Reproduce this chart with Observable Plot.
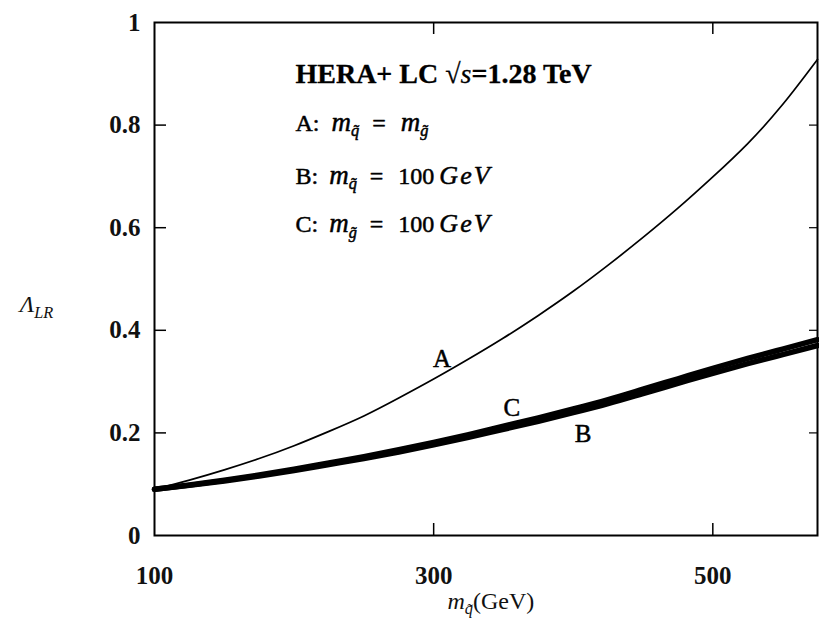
<!DOCTYPE html>
<html>
<head>
<meta charset="utf-8">
<script src="https://cdn.jsdelivr.net/npm/d3@7"></script>
<script src="https://cdn.jsdelivr.net/npm/@observablehq/plot@0.6"></script>
<style>
  html, body { margin: 0; padding: 0; background: #fff; }
  #chart { width: 819px; height: 618px; }
  svg { font-family: "Liberation Serif", "DejaVu Serif", serif; }
</style>
</head>
<body>
<div id="chart"></div>
<script>
// ---- data ----
const mq = [100,125,150,175,200,225,250,275,300,325,350,375,400,425,450,475,500,525,550,575];
const seriesA = [0.090,0.108,0.128,0.150,0.175,0.203,0.233,0.268,0.305,0.344,0.385,0.429,0.476,0.527,0.581,0.638,0.699,0.764,0.840,0.928];
const seriesB = [0.090,0.0977,0.1064,0.1161,0.1268,0.1385,0.1502,0.1629,0.1766,0.1913,0.2070,0.2227,0.2394,0.2571,0.2768,0.2965,0.3162,0.3349,0.3526,0.3703];
const seriesC = [0.090,0.0983,0.1076,0.1179,0.1292,0.1415,0.1538,0.1671,0.1814,0.1967,0.2130,0.2293,0.2466,0.2649,0.2852,0.3055,0.3258,0.3451,0.3634,0.3817];
const xTicks = [100, 300, 500];
const yTicks = [0, 0.2, 0.4, 0.6, 0.8, 1];
const yTickLabels = ["0", "0.2", "0.4", "0.6", "0.8", "1"];
const curveLabels = [
  {x: 306, y: 0.345, t: "A"},
  {x: 356, y: 0.248, t: "C"},
  {x: 407, y: 0.197, t: "B"}
];
// legend block (rich text parts: i = italic, sub = subscript, dx = gap before, fs = font size)
const legendRows = [
  {x: 201, y: 0.883, size: 28, bold: true,
   parts: [{t: "HERA+ LC "}, {t: "√"}, {t: "s", i: true}, {t: "=1.28 TeV"}]},
  {x: 201, y: 0.789, size: 24,
   parts: [{t: "A:"}, {t: "m", i: true, dx: 12, fs: 27}, {t: "q\u0303", i: true, sub: true}, {t: "=", dx: 13}, {t: "m", i: true, dx: 15, fs: 27}, {t: "g\u0303", i: true, sub: true}]},
  {x: 201, y: 0.686, size: 24,
   parts: [{t: "B:"}, {t: "m", i: true, dx: 11, fs: 27}, {t: "q\u0303", i: true, sub: true}, {t: "=", dx: 13}, {t: "100", dx: 15}, {t: "GeV", i: true, dx: 5, fs: 26, ls: 2}]},
  {x: 201, y: 0.591, size: 24,
   parts: [{t: "C:"}, {t: "m", i: true, dx: 11, fs: 27}, {t: "g\u0303", i: true, sub: true}, {t: "=", dx: 13}, {t: "100", dx: 15}, {t: "GeV", i: true, dx: 5, fs: 26, ls: 2}]}
];

const W = 819, H = 618;
const mL = 154, mR = 2, mT = 22, mB = 83;
const plotW = W - mL - mR, plotH = H - mT - mB;

const rows = (ys, name) => mq.map((x, i) => ({x, y: ys[i], s: name}));
const dataA = rows(seriesA, "A");
const dataB = rows(seriesB, "B");
const dataC = rows(seriesC, "C");

function rich(textEl, parts, size) {
  textEl.textContent = "";
  let shifted = false;
  for (const p of parts) {
    const ts = d3.select(textEl).append("tspan").text(p.t);
    if (p.i) ts.attr("font-style", "italic").attr("font-weight", "normal");
    if (p.fs) ts.attr("font-size", p.fs);
    if (p.ls) ts.attr("letter-spacing", p.ls);
    if (p.dx) ts.attr("dx", p.dx);
    if (p.sub) {
      ts.attr("font-size", size * 0.68).attr("dy", shifted ? 0 : "0.32em");
      shifted = true;
    } else if (shifted) {
      ts.attr("dy", "-0.22em");
      shifted = false;
    }
  }
}

function richRender(getParts, getSize, getBold) {
  return (index, scales, values, dimensions, context, next) => {
    const g = next(index, scales, values, dimensions, context);
    d3.select(g).selectAll("text").each(function(_, j) {
      const k = index[j];
      const size = getSize(k);
      d3.select(this).attr("font-size", size);
      if (getBold && getBold(k)) d3.select(this).attr("font-weight", "bold");
      rich(this, getParts(k), size);
    });
    return g;
  };
}

const xLabelParts = [{t: "m", i: true}, {t: "q\u0303", i: true, sub: true}, {t: "(GeV)"}];
const yLabelParts = [{t: "Λ", i: true}, {t: "LR", i: true, sub: true}];

const plot = Plot.plot({
  width: W,
  height: H,
  marginLeft: mL,
  marginRight: mR,
  marginTop: mT,
  marginBottom: mB,
  x: {domain: [100, 575], axis: null},
  y: {domain: [0, 1], axis: null},
  style: {fontFamily: "'Liberation Serif', 'DejaVu Serif', serif", background: "#fff"},
  marks: [
    // tick marks (inward on all four sides)
    Plot.tickY(yTicks.slice(1, 5), {y: d => d, insetRight: plotW - 12, stroke: "#000", strokeWidth: 1.5}),
    Plot.tickY(yTicks.slice(1, 5), {y: d => d, insetLeft: plotW - 8, stroke: "#000", strokeWidth: 1.2}),
    Plot.tickX(xTicks.slice(1), {x: d => d, insetTop: plotH - 12, stroke: "#000", strokeWidth: 1.5}),
    Plot.tickX(xTicks.slice(1), {x: d => d, insetBottom: plotH - 12, stroke: "#000", strokeWidth: 1.5}),
    Plot.frame({stroke: "#000", strokeWidth: 2}),
    // tick labels
    Plot.text(yTicks, {x: 100, y: d => d, text: (d, i) => yTickLabels[i], textAnchor: "end", dx: -14,
      fontSize: 25, fontWeight: "bold", fill: "#111"}),
    Plot.text(xTicks, {x: d => d, y: 0, text: d => String(d), dy: 40, fontSize: 25, fontWeight: "bold", fill: "#111"}),
    // curves
    Plot.line(dataA, {x: "x", y: "y", stroke: "#000", strokeWidth: 1.7, curve: "natural"}),
    Plot.line(dataB, {x: "x", y: "y", stroke: "#000", strokeWidth: 5.5, curve: "natural"}),
    Plot.line(dataC, {x: "x", y: "y", stroke: "#000", strokeWidth: 5.5, curve: "natural"}),
    // curve labels
    Plot.text(curveLabels, {x: "x", y: "y", text: "t", fontSize: 25, fill: "#000", stroke: "#000", strokeWidth: 0.5}),
    // legend block
    Plot.text(legendRows, {x: "x", y: "y", text: d => d.parts.map(p => p.t).join(""), textAnchor: "start",
      lineAnchor: "bottom",
      fill: "#000", stroke: "#000", strokeWidth: d => d.bold ? 0.3 : 0.5,
      render: richRender(i => legendRows[i].parts, i => legendRows[i].size, i => legendRows[i].bold)}),
    // axis titles
    Plot.text([0], {x: 341, y: 0, text: () => "m(GeV)", dy: 66, fill: "#111",
      render: richRender(() => xLabelParts, () => 24)}),
    Plot.text([0], {x: 100, y: 0.45, text: () => "ΛLR", dx: -118, fill: "#111",
      render: richRender(() => yLabelParts, () => 24)})
  ]
});

document.getElementById("chart").appendChild(plot);
</script>
</body>
</html>
